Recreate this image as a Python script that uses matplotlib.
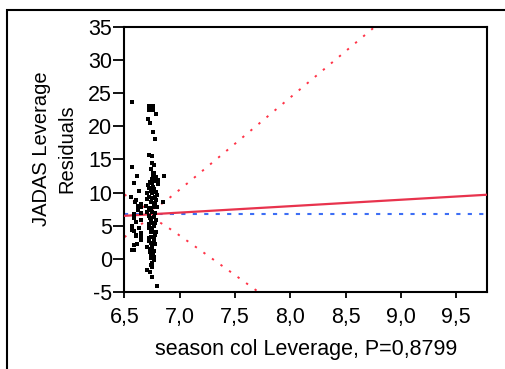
import numpy as np
import matplotlib.pyplot as plt
from matplotlib.patches import Rectangle
from matplotlib.ticker import FuncFormatter

plt.rcParams['font.family'] = ['Liberation Sans', 'DejaVu Sans']
plt.rcParams['axes.unicode_minus'] = False

# leverage points (x = season col leverage, y = JADAS leverage residuals)
lev_x = [6.564, 6.782, 6.712, 6.730, 6.761, 6.779, 6.721, 6.745, 6.752, 6.766,
         6.570, 6.615, 6.766, 6.755, 6.782, 6.857, 6.585, 6.803, 6.779, 6.712,
         6.752, 6.806, 6.630, 6.721, 6.766, 6.555, 6.706, 6.745, 6.782, 6.797,
         6.700, 6.752, 6.782, 6.600, 6.852, 6.645, 6.691, 6.766, 6.797, 6.621,
         6.730, 6.645, 6.721, 6.766, 6.706, 6.752, 6.645, 6.585, 6.766, 6.730,
         6.782, 6.645, 6.600, 6.743, 6.570, 6.766, 6.630, 6.721, 6.585, 6.752,
         6.782, 6.645, 6.600, 6.736, 6.766, 6.652, 6.721, 6.766, 6.615, 6.752,
         6.706, 6.752, 6.585, 6.730, 6.766, 6.743, 6.766, 6.752, 6.752, 6.743,
         6.706, 6.730, 6.752, 6.797, 6.597, 6.621, 6.585, 6.570, 6.600, 6.652,
         6.585, 6.564, 6.736, 6.761, 6.745, 6.730, 6.761, 6.736, 6.773, 6.721,
         6.743, 6.779, 6.736, 6.773, 6.721, 6.743, 6.779, 6.725, 6.752, 6.736,
         6.773, 6.721, 6.743, 6.779, 6.730, 6.761, 6.736, 6.770, 6.745]
lev_y = [23.72, 21.82, 21.07, 20.46, 19.11, 18.05, 15.68, 15.53, 14.52, 14.17,
         13.82, 12.51, 12.92, 12.51, 12.40, 12.51, 11.50, 11.91, 11.80, 11.15,
         11.41, 11.26, 10.29, 10.65, 10.50, 9.38, 9.90, 9.99, 10.05, 9.64,
         8.99, 9.14, 8.89, 8.89, 8.54, 8.28, 7.98, 8.28, 7.88, 7.98,
         7.68, 7.88, 7.72, 7.88, 7.12, 7.03, 6.88, 6.73, 6.37, 6.12,
         5.87, 5.87, 5.52, 5.37, 5.01, 5.01, 4.71, 4.71, 4.21, 4.21,
         4.01, 3.86, 3.50, 3.35, 3.20, 2.85, 2.70, 2.59, 2.20, 2.09,
         1.84, 1.60, 1.34, 1.08, 1.19, 0.58, 0.33, 0.48, -0.67, -0.92,
         -1.68, -2.03, -2.68, -4.09, 8.63, 7.38, 6.12, 4.36, 3.60, 3.35,
         2.09, 1.34, 13.50, 13.00, 12.00, 11.60, 10.90, 10.30, 9.40, 9.30,
         8.60, 8.50, 7.30, 6.90, 6.50, 6.00, 5.40, 5.20, 4.60, 4.00,
         3.60, 3.10, 2.40, 2.30, 1.50, 0.90, 0.10, -0.20, -1.30]
# the one enlarged (overlapping) point
big_x = [6.743]
big_y = [22.73]

# fit
x_mean = 6.74
y_mean = 6.73
slope = 0.97
ci_slope = 13.0
ci_mid = 0.8

x_ticks = [6.5, 7.0, 7.5, 8.0, 8.5, 9.0, 9.5]
y_ticks = [-5, 0, 5, 10, 15, 20, 25, 30, 35]

fig = plt.figure(figsize=(5.05, 3.69), dpi=100)
ax = fig.add_axes([0.2465, 0.2087, 0.7179, 0.7182])

xs = np.linspace(6.5, 9.78, 400)
fit = y_mean + slope * (xs - x_mean)
half = np.sqrt(ci_mid ** 2 + (ci_slope * (xs - x_mean)) ** 2)

ax.plot(xs, fit + half, color='#ff3347', lw=1.4, ls=(0, (1.2, 4.2)), zorder=2)
ax.plot(xs, fit - half, color='#ff3347', lw=1.4, ls=(0, (1.2, 4.2)), zorder=2)
ax.axhline(y_mean, color='#3d6ef5', lw=1.5, ls=(0, (2, 3.5)), zorder=2)
ax.plot(xs, fit, color='#e8334d', lw=1.6, zorder=3)

ax.scatter(lev_x, lev_y, s=6, marker='s', color='black', lw=0, zorder=4)
ax.scatter(big_x, big_y, s=40, marker='s', color='black', lw=0, zorder=4)

ax.set_xlim(6.5, 9.78)
ax.set_ylim(-5, 35)
ax.set_xticks(x_ticks)
ax.set_yticks(y_ticks)
ax.xaxis.set_major_formatter(FuncFormatter(lambda v, p: f'{v:.1f}'.replace('.', ',')))
ax.tick_params(axis='x', length=4, width=1.3, labelsize=15.5, pad=7)
ax.tick_params(axis='y', length=8, width=1.3, labelsize=15.5, pad=1)
for s in ax.spines.values():
    s.set_linewidth(1.5)

ax.set_xlabel('season col Leverage, P=0,8799', fontsize=15.5, labelpad=8)
ax.set_ylabel('JADAS Leverage\nResiduals', fontsize=14.5, linespacing=1.4)
ax.yaxis.set_label_coords(-0.133, 0.54)

fig.add_artist(Rectangle((7 / 505, -0.1), 1.2, 1 - 10 / 369 + 0.1,
                         transform=fig.transFigure, fill=False,
                         edgecolor='black', lw=1.5))

fig.savefig('out.png', dpi=100)
